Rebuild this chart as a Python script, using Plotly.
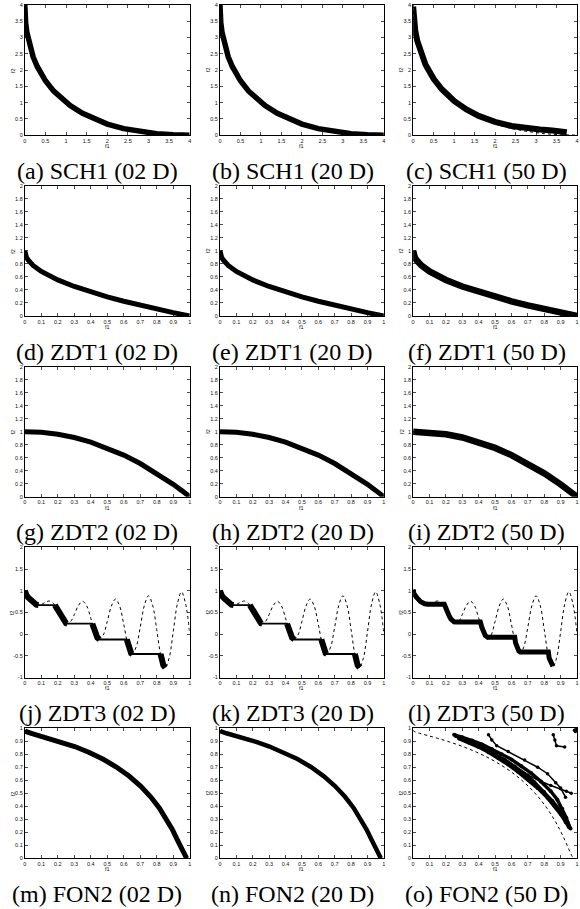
import plotly.graph_objects as go

W, H = 580, 909

# ---------------- data ----------------
# SCH1 front
sch1_f1 = [0, 0.005, 0.01, 0.02, 0.05, 0.1, 0.2, 0.3, 0.4, 0.5, 0.7, 0.9, 1.1, 1.4, 1.7, 2.0, 2.4, 2.8, 3.2, 3.6, 4.0]
sch1_f2 = [4.0, 3.72, 3.61, 3.45, 3.16, 2.84, 2.41, 2.11, 1.87, 1.67, 1.35, 1.11, 0.91, 0.67, 0.49, 0.34, 0.20, 0.11, 0.045, 0.01, 0.0]
# SCH1 50D obtained set
sch1_50_f1 = [0, 0.02, 0.05, 0.1, 0.2, 0.3, 0.5, 0.7, 1.0, 1.3, 1.6, 2.0, 2.4, 2.8, 3.1, 3.4, 3.6, 3.75]
sch1_50_f2 = [3.95, 3.50, 3.22, 2.90, 2.48, 2.17, 1.73, 1.41, 1.05, 0.79, 0.59, 0.41, 0.28, 0.20, 0.17, 0.14, 0.12, 0.09]

# ZDT1 front
zdt1_f1 = [0, 0.002, 0.005, 0.01, 0.02, 0.05, 0.1, 0.15, 0.2, 0.3, 0.4, 0.5, 0.6, 0.7, 0.8, 0.9, 1.0]
zdt1_f2 = [1.0, 0.955, 0.929, 0.90, 0.859, 0.776, 0.684, 0.613, 0.553, 0.452, 0.368, 0.293, 0.225, 0.163, 0.106, 0.051, 0.0]

# ZDT2 front
zdt2_f1 = [0, 0.1, 0.2, 0.3, 0.4, 0.5, 0.6, 0.7, 0.8, 0.9, 0.95, 1.0]
zdt2_f2 = [1.0, 0.99, 0.96, 0.91, 0.84, 0.75, 0.64, 0.51, 0.36, 0.19, 0.0975, 0.0]

# ZDT3 reference curve (dotted)
zdt3_ref_f1 = [0, 0.025, 0.05, 0.075, 0.1, 0.125, 0.15, 0.175, 0.2, 0.225, 0.25, 0.275, 0.3, 0.325,
               0.35, 0.375, 0.4, 0.425, 0.45, 0.475, 0.5, 0.525, 0.55, 0.575, 0.6, 0.625, 0.65,
               0.675, 0.7, 0.725, 0.75, 0.775, 0.8, 0.825, 0.85, 0.875, 0.9, 0.925, 0.95, 0.975, 1.0]
zdt3_ref_f2 = [1.0, 0.824, 0.726, 0.673, 0.684, 0.735, 0.763, 0.705, 0.553, 0.367, 0.25, 0.281, 0.452,
               0.660, 0.758, 0.653, 0.368, 0.048, -0.121, -0.025, 0.293, 0.647, 0.808, 0.648, 0.225,
               -0.233, -0.456, -0.299, 0.163, 0.661, 0.884, 0.668, 0.106, -0.492, -0.772, -0.554,
               0.051, 0.692, 0.975, 0.702, 0.0]
# ZDT3 obtained segments (02 D / 20 D)
zdt3_seg_f1 = [[0, 0.002, 0.005, 0.01, 0.02, 0.03, 0.045, 0.06, 0.07, 0.083],
               [0.1822, 0.19, 0.2, 0.21, 0.22, 0.23, 0.24, 0.25, 0.2577],
               [0.4093, 0.42, 0.43, 0.44, 0.4538],
               [0.6183, 0.625, 0.635, 0.645, 0.6525],
               [0.8233, 0.83, 0.84, 0.8518]]
zdt3_seg_f2 = [[1.0, 0.955, 0.928, 0.897, 0.847, 0.803, 0.744, 0.698, 0.679, 0.670],
               [0.670, 0.623, 0.553, 0.477, 0.402, 0.334, 0.282, 0.25, 0.242],
               [0.242, 0.105, -0.004, -0.082, -0.124],
               [-0.123, -0.233, -0.363, -0.440, -0.458],
               [-0.458, -0.583, -0.715, -0.773]]
# ZDT3 50D obtained set
zdt3_50_f1 = [0, 0.005, 0.02, 0.045, 0.07, 0.09, 0.19, 0.2, 0.21, 0.22, 0.23, 0.24, 0.25, 0.26,
              0.41, 0.42, 0.43, 0.44, 0.455, 0.62, 0.625, 0.635, 0.645, 0.655, 0.825, 0.83, 0.84, 0.853]
zdt3_50_f2 = [1.03, 0.93, 0.85, 0.75, 0.70, 0.69, 0.69, 0.58, 0.50, 0.42, 0.35, 0.30, 0.285, 0.28,
              0.28, 0.15, 0.04, -0.03, -0.07, -0.07, -0.20, -0.33, -0.39, -0.41, -0.41, -0.55, -0.67, -0.74]

# FON2 front
fon2_f1 = [0, 0.0100, 0.0392, 0.0861, 0.1479, 0.2212, 0.3023, 0.3874, 0.4727, 0.5551, 0.6321,
           0.7018, 0.7631, 0.8155, 0.8591, 0.8946, 0.9227, 0.9444, 0.9608, 0.9729, 0.9817]
fon2_f2 = [0.9817, 0.9729, 0.9608, 0.9444, 0.9227, 0.8946, 0.8591, 0.8155, 0.7631, 0.7018, 0.6321,
           0.5551, 0.4727, 0.3874, 0.3023, 0.2212, 0.1479, 0.0861, 0.0392, 0.0100, 0.0]
# FON2 50D obtained runs (dense band + stray runs)
fon2_50_band_f1 = [
    [0.25, 0.30, 0.36, 0.42, 0.48, 0.54, 0.60, 0.66, 0.72, 0.78, 0.84, 0.88, 0.91, 0.935, 0.95],
    [0.26, 0.32, 0.38, 0.44, 0.50, 0.56, 0.62, 0.68, 0.74, 0.80, 0.85, 0.89, 0.92, 0.945, 0.96],
    [0.28, 0.34, 0.40, 0.46, 0.52, 0.58, 0.64, 0.70, 0.76, 0.82, 0.86, 0.90, 0.93, 0.95],
]
fon2_50_band_f2 = [
    [0.95, 0.93, 0.905, 0.875, 0.84, 0.80, 0.76, 0.71, 0.655, 0.59, 0.515, 0.45, 0.38, 0.31, 0.25],
    [0.94, 0.91, 0.875, 0.84, 0.80, 0.755, 0.705, 0.65, 0.585, 0.51, 0.44, 0.375, 0.32, 0.27, 0.23],
    [0.92, 0.89, 0.855, 0.815, 0.77, 0.72, 0.665, 0.605, 0.54, 0.465, 0.405, 0.34, 0.28, 0.24],
]
fon2_50_stray_f1 = [
    [0.46, 0.48, 0.51, 0.58, 0.68, 0.76, 0.82, 0.87, 0.90, 0.93],
    [0.70, 0.78, 0.84, 0.90, 0.935, 0.965],
    [0.855, 0.865, 0.875, 0.925],
    [0.985, 0.99, 1.0, 0.995],
]
fon2_50_stray_f2 = [
    [0.95, 0.91, 0.865, 0.82, 0.755, 0.70, 0.65, 0.58, 0.54, 0.47],
    [0.64, 0.59, 0.56, 0.535, 0.515, 0.50],
    [0.95, 0.91, 0.865, 0.856],
    [0.985, 0.975, 0.99, 1.0],
]

# ticks
sch1_ticks = [0, 0.5, 1, 1.5, 2, 2.5, 3, 3.5, 4]
sch1_ticklabels = ["0", "0.5", "1", "1.5", "2", "2.5", "3", "3.5", "4"]
unit_ticks = [0, 0.1, 0.2, 0.3, 0.4, 0.5, 0.6, 0.7, 0.8, 0.9, 1]
unit_ticklabels = ["0", "0.1", "0.2", "0.3", "0.4", "0.5", "0.6", "0.7", "0.8", "0.9", "1"]
zdt12_yticks = [0, 0.2, 0.4, 0.6, 0.8, 1, 1.2, 1.4, 1.6, 1.8, 2]
zdt12_yticklabels = ["0", "0.2", "0.4", "0.6", "0.8", "1", "1.2", "1.4", "1.6", "1.8", "2"]
zdt3_yticks = [-1, -0.5, 0, 0.5, 1, 1.5, 2]
zdt3_yticklabels = ["-1", "-0.5", "0", "0.5", "1", "1.5", "2"]

captions = [
    ["(a) SCH1 (02 D)", "(b) SCH1 (20 D)", "(c) SCH1 (50 D)"],
    ["(d) ZDT1 (02 D)", "(e) ZDT1 (20 D)", "(f) ZDT1 (50 D)"],
    ["(g) ZDT2 (02 D)", "(h) ZDT2 (20 D)", "(i) ZDT2 (50 D)"],
    ["(j) ZDT3 (02 D)", "(k) ZDT3 (20 D)", "(l) ZDT3 (50 D)"],
    ["(m) FON2 (02 D)", "(n) FON2 (20 D)", "(o) FON2 (50 D)"],
]

# ---------------- layout geometry (pixels) ----------------
col_px = [(23, 189), (219.5, 384.5), (414, 579)]
row_top = [2, 184, 366, 548, 730]
panel_h = 131
cap_dx = [96, 293, 488]
cap_y0 = 169
row_step = 182

fig = go.Figure()
layout = dict(width=W, height=H, margin=dict(l=0, r=0, t=0, b=0),
              paper_bgcolor="white", plot_bgcolor="white", showlegend=False)
annotations = []

small_font = dict(family="Liberation Sans, Arial, sans-serif", size=5.5, color="#111")


def axis_cfg(dom, rng, tv, tt, anchor):
    return dict(domain=dom, range=rng, tickvals=tv, ticktext=tt, anchor=anchor,
                ticks="inside", ticklen=3, tickwidth=0.7, tickcolor="black",
                showline=True, linecolor="black", linewidth=1, mirror="allticks",
                showgrid=False, zeroline=False, fixedrange=True, tickfont=small_font)


def line(x, y, k, w, dash=None, shape="linear", mode="lines", msize=0):
    xa = "x" if k == 1 else f"x{k}"
    ya = "y" if k == 1 else f"y{k}"
    ln = dict(color="black", width=w, shape=shape)
    if dash:
        ln["dash"] = dash
    tr = go.Scatter(x=x, y=y, mode=mode, line=ln, xaxis=xa, yaxis=ya,
                    hoverinfo="skip", showlegend=False)
    if msize:
        tr.marker = dict(color="black", size=msize)
    fig.add_trace(tr)


def join_segments(segs):
    out = []
    for i, s in enumerate(segs):
        if i:
            out.append(None)
        out.extend(s)
    return out


def flat(segs):
    out = []
    for s in segs:
        out.extend(s)
    return out


for r in range(5):
    for c in range(3):
        k = r * 3 + c + 1
        x0, x1 = col_px[c]
        top = row_top[r]
        xdom = [x0 / W, x1 / W]
        ydom = [1 - (top + panel_h) / H, 1 - top / H]
        xname = "xaxis" if k == 1 else f"xaxis{k}"
        yname = "yaxis" if k == 1 else f"yaxis{k}"
        xa_ref = "x" if k == 1 else f"x{k}"
        ya_ref = "y" if k == 1 else f"y{k}"

        if r == 0:
            xr, yr = [0, 4], [0, 4]
            xtv, xtt, ytv, ytt = sch1_ticks, sch1_ticklabels, sch1_ticks, sch1_ticklabels
        elif r in (1, 2):
            xr, yr = [0, 1], [0, 2]
            xtv, xtt, ytv, ytt = unit_ticks, unit_ticklabels, zdt12_yticks, zdt12_yticklabels
        elif r == 3:
            xr, yr = [0, 1], [-1, 2]
            xtv, xtt, ytv, ytt = unit_ticks, unit_ticklabels, zdt3_yticks, zdt3_yticklabels
        else:
            xr, yr = [0, 1], [0, 1]
            xtv, xtt, ytv, ytt = unit_ticks, unit_ticklabels, unit_ticks, unit_ticklabels

        layout[xname] = axis_cfg(xdom, xr, xtv, xtt, ya_ref)
        layout[yname] = axis_cfg(ydom, yr, ytv, ytt, xa_ref)

        # traces
        if r == 0:
            if c < 2:
                line(sch1_f1, sch1_f2, k, 5.5)
            else:
                line(sch1_f1, sch1_f2, k, 1, dash="dot")
                line(sch1_50_f1, sch1_50_f2, k, 6)
        elif r == 1:
            line(zdt1_f1, zdt1_f2, k, 5 if c < 2 else 6.5)
        elif r == 2:
            line(zdt2_f1, zdt2_f2, k, 5 if c < 2 else 6.5)
        elif r == 3:
            line(zdt3_ref_f1, zdt3_ref_f2, k, 1, dash="dot", shape="spline")
            if c < 2:
                line(flat(zdt3_seg_f1), flat(zdt3_seg_f2), k, 1.8)
                line(join_segments(zdt3_seg_f1), join_segments(zdt3_seg_f2), k, 6)
            else:
                line(zdt3_50_f1, zdt3_50_f2, k, 5)
        else:
            if c < 2:
                line(fon2_f1, fon2_f2, k, 5 if c == 0 else 4.5)
            else:
                line(fon2_f1, fon2_f2, k, 1, dash="dot", shape="spline")
                for fx, fy in zip(fon2_50_band_f1, fon2_50_band_f2):
                    line(fx, fy, k, 3.5, mode="lines+markers", msize=4)
                for fx, fy in zip(fon2_50_stray_f1, fon2_50_stray_f2):
                    line(fx, fy, k, 1.5, mode="lines+markers", msize=3.5)

        # axis labels
        annotations.append(dict(x=(x0 + x1) / 2 / W, y=1 - (top + panel_h + 11) / H,
                                xref="paper", yref="paper", text="f1", showarrow=False,
                                font=small_font, xanchor="center", yanchor="middle"))
        annotations.append(dict(x=(x0 - 12) / W, y=1 - (top + panel_h / 2) / H,
                                xref="paper", yref="paper", text="f2", showarrow=False, textangle=-90,
                                font=small_font, xanchor="center", yanchor="middle"))
        # caption
        annotations.append(dict(x=cap_dx[c] / W, y=1 - (cap_y0 + row_step * r) / H,
                                xref="paper", yref="paper", text=captions[r][c], showarrow=False,
                                font=dict(family="Liberation Serif, Times New Roman, serif", size=24, color="black"),
                                xanchor="center", yanchor="middle"))

layout["annotations"] = annotations
fig.update_layout(**layout)
fig.write_html("out.html", config={"displayModeBar": False, "staticPlot": True},
               post_script="document.body.style.margin='0';document.body.style.overflow='hidden';")
